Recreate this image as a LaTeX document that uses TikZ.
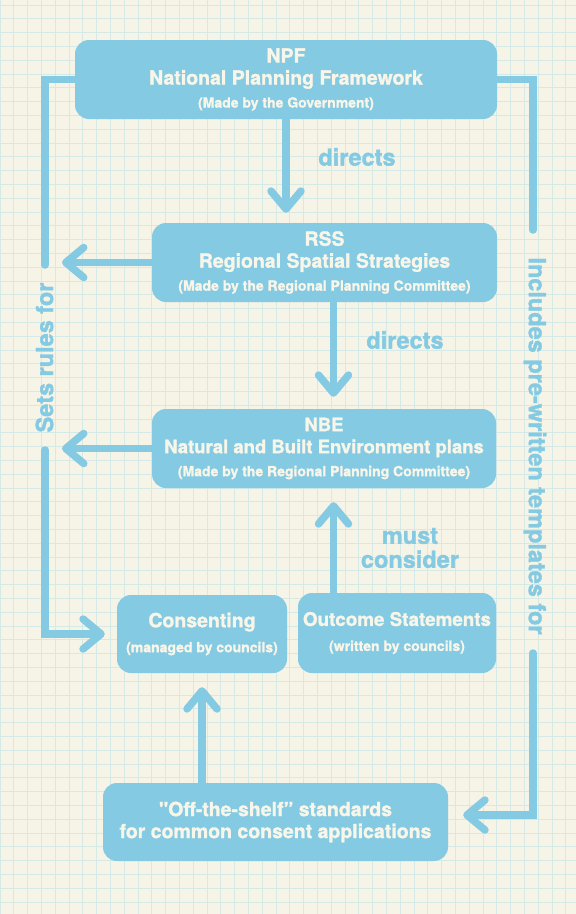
\documentclass[tikz,border=0pt]{standalone}
\usepackage{fontspec}
\setmainfont[BoldFeatures={FakeBold=1.4}]{TeX Gyre Heros}
\newfontfamily\rawquote[Ligatures=TeXOff,BoldFeatures={FakeBold=1.4}]{TeX Gyre Heros}
\usetikzlibrary{arrows.meta,calc}

\definecolor{paper}{HTML}{F6F3E7}
\definecolor{gridc}{HTML}{D5EAE6}
\definecolor{boxc}{HTML}{84CAE3}
\definecolor{cream}{HTML}{F8F5E9}

\newcommand{\smallnote}[1]{{\fontsize{14}{16}\selectfont #1}}

\tikzset{
  box/.style={fill=boxc, rounded corners=14pt, text=cream, align=center, inner sep=0pt,
    font=\bfseries\fontsize{19.5}{22}\selectfont},
  wire/.style={draw=boxc, line width=7.5pt, line cap=round},
  flow/.style={wire, -{Straight Barb[length=18pt,width=30pt,round]}},
  lbl/.style={text=boxc, align=center, inner sep=0pt,
    font=\bfseries\fontsize{23.5}{24}\selectfont},
}

\begin{document}
\begin{tikzpicture}[x=1pt,y=1pt,yscale=-1]
% paper and grid
\fill[paper] (0,0) rectangle (576,914);
\useasboundingbox (0,0) rectangle (576,914);
\draw[gridc, line width=0.9pt, shift={(0,5)}] (0,-5) grid[step=13.8] (576,914);

% Boxes
\node[box, minimum width=422, minimum height=79] (npf) at (286,79.5)
  {NPF\\National Planning Framework\\[1pt]\smallnote{(Made by the Government)}};
\node[box, minimum width=345, minimum height=79] (rss) at (324.5,262.5)
  {RSS\\Regional Spatial Strategies\\[1pt]\smallnote{(Made by the Regional Planning Committee)}};
\node[box, minimum width=344, minimum height=79, font=\bfseries\fontsize{18.5}{22}\selectfont] (nbe) at (324,448.5)
  {NBE\\Natural and Built Environment plans\\[1pt]\smallnote{(Made by the Regional Planning Committee)}};
\node[box, minimum width=170, minimum height=78] (cons) at (202,634)
  {Consenting\\[3pt]\smallnote{(managed by councils)}};
\node[box, minimum width=198, minimum height=80, font=\bfseries\fontsize{18.8}{22}\selectfont] (outc) at (397,633)
  {Outcome Statements\\[3pt]\smallnote{(written by councils)}};
\node[box, minimum width=345, minimum height=78] (off) at (275.5,822)
  {{\rawquote\bfseries "}Off-the-shelf'' standards\\for common consent applications};

% helper points
\coordinate (spine) at (333.5,500);
\coordinate (lft) at (45,300);
\coordinate (lbrk1) at (45,265);
\coordinate (lbrk2) at (45,450);
\coordinate (rbrk1) at (533,230);
\coordinate (rbrk2) at (533,653);

% Connectors
\draw[flow, shorten >=10pt] (npf.south) -- (npf.south |- rss.north);
\draw[flow, shorten >=12pt] (rss.south -| spine) -- (nbe.north -| spine);
\draw[flow, shorten >=14pt] (outc.north -| spine) -- (nbe.south -| spine);
\draw[flow, shorten >=14pt] (off.north -| cons.south) -- (cons.south);
\draw[flow, shorten >=17pt] (rss.west) -- (rss.west -| lft);
\draw[flow, shorten >=17pt] (nbe.west) -- (nbe.west -| lft);
\draw[wire, line join=miter] (npf.west) -| (lbrk1);
\draw[flow, line join=miter, shorten >=12pt] (lbrk2) |- (cons.west);
\draw[wire, line join=miter] (npf.east) -| (rbrk1);
\draw[flow, line join=miter, shorten >=15pt] (rbrk2) |- ($(off.east)+(0,-7)$);

% Labels
\node[lbl] (dir1) at (357,157) {directs};
\node[lbl] (dir2) at (405,340) {directs};
\node[lbl] (must) at (410,548) {must\\consider};
\node[lbl, rotate=90] (sets) at (44.5,357.5) {Sets rules for};
\node[lbl, rotate=-90] (incl) at (535,446) {Includes pre-written templates for};

\end{tikzpicture}
\end{document}
